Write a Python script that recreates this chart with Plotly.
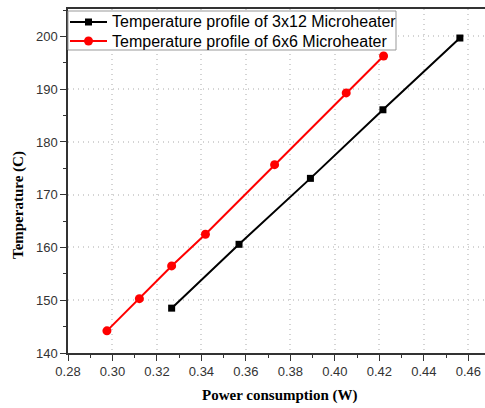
import plotly.graph_objects as go

x_3x12 = [0.3266, 0.3569, 0.3890, 0.4216, 0.4562]
y_3x12 = [148.5, 160.6, 173.1, 186.1, 199.7]
x_6x6 = [0.2975, 0.3121, 0.3266, 0.3418, 0.3729, 0.4051, 0.4219]
y_6x6 = [144.2, 150.3, 156.5, 162.5, 175.7, 189.3, 196.3]
name_3x12 = "Temperature profile of 3x12 Microheater"
name_6x6 = "Temperature profile of 6x6 Microheater"
colors = ["black", "#ff0000"]
x_title = "Power consumption (W)"
y_title = "Temperature (C)"

W, H = 485, 408
ML, MR, MT, MB = 68, 0, 9, 55
PW, PH = W - ML - MR, H - MT - MB

fig = go.Figure()
fig.add_trace(go.Scatter(x=x_3x12, y=y_3x12, mode="lines+markers", name=name_3x12,
                         line=dict(color=colors[0], width=2),
                         marker=dict(symbol="square", size=7, color=colors[0])))
fig.add_trace(go.Scatter(x=x_6x6, y=y_6x6, mode="lines+markers", name=name_6x6,
                         line=dict(color=colors[1], width=2),
                         marker=dict(symbol="circle", size=9, color=colors[1])))

def px(xp):  # pixel -> paper x
    return (xp - ML) / PW
def py(yp):  # pixel -> paper y
    return (H - MB - yp) / PH

serif = "Liberation Serif, Times New Roman, serif"

# compact legend (box, key lines, key markers, labels)
shapes = [dict(type="rect", xref="paper", yref="paper", x0=px(68), x1=px(396),
               y0=py(50), y1=py(11), line=dict(color="#999", width=1), fillcolor="white",
               layer="above")]
annotations = []
for i, (nm, sym) in enumerate([(name_3x12, "square"), (name_6x6, "circle")]):
    yc = 22 + 19 * i
    c = colors[i]
    shapes.append(dict(type="line", xref="paper", yref="paper", x0=px(70), x1=px(107),
                       y0=py(yc), y1=py(yc), line=dict(color=c, width=2), layer="above"))
    r = 3.5 if sym == "square" else 4.5
    shapes.append(dict(type="rect" if sym == "square" else "circle", xref="paper", yref="paper",
                       x0=px(88.5 - r), x1=px(88.5 + r), y0=py(yc + r), y1=py(yc - r),
                       line=dict(color=c, width=0), fillcolor=c, layer="above"))
    annotations.append(dict(text=nm, xref="paper", yref="paper", x=px(110), y=py(yc),
                            xanchor="left", yanchor="middle", showarrow=False,
                            font=dict(family="Arial, Liberation Sans, sans-serif", size=16, color="black")))

annotations.append(dict(text="<b>%s</b>" % y_title, xref="paper", yref="paper",
                        x=px(18), y=py(205), xanchor="center", yanchor="middle",
                        textangle=-90, showarrow=False,
                        font=dict(family=serif, size=15, color="black")))
annotations.append(dict(text="<b>%s</b>" % x_title, xref="paper", yref="paper",
                        x=px(280), y=py(395), xanchor="center", yanchor="middle",
                        showarrow=False,
                        font=dict(family=serif, size=15, color="black")))

fig.update_layout(
    width=W, height=H,
    margin=dict(l=ML, r=MR, t=MT, b=MB),
    paper_bgcolor="white", plot_bgcolor="white",
    font=dict(family="Arial, Liberation Sans, sans-serif", color="#333"),
    showlegend=False,
    shapes=shapes, annotations=annotations,
)
fig.update_xaxes(
    range=[0.28, 0.4675], dtick=0.02, tickformat=".2f", automargin=False,
    showline=True, linecolor="#333", linewidth=1.5, mirror=True,
    ticks="outside", ticklen=6, tickcolor="#333",
    minor=dict(ticks="outside", ticklen=3, dtick=0.01, tickcolor="#333", showgrid=False),
    showgrid=True, gridcolor="#d4d4d4", griddash="1px,4px", gridwidth=1.5,
    zeroline=False, tickfont=dict(size=13, color="#333"),
)
fig.update_yaxes(
    range=[140, 205.2], dtick=10, automargin=False,
    showline=True, linecolor="#333", linewidth=1.5, mirror=False,
    ticks="outside", ticklen=6, tickcolor="#333",
    minor=dict(ticks="outside", ticklen=3, dtick=5, tickcolor="#333", showgrid=False),
    showgrid=True, gridcolor="#d4d4d4", griddash="1px,4px", gridwidth=1.5,
    zeroline=False, tickfont=dict(size=13, color="#333"),
)
fig.write_html("out.html", post_script="document.body.style.margin='0';",
               config={"displayModeBar": False})
